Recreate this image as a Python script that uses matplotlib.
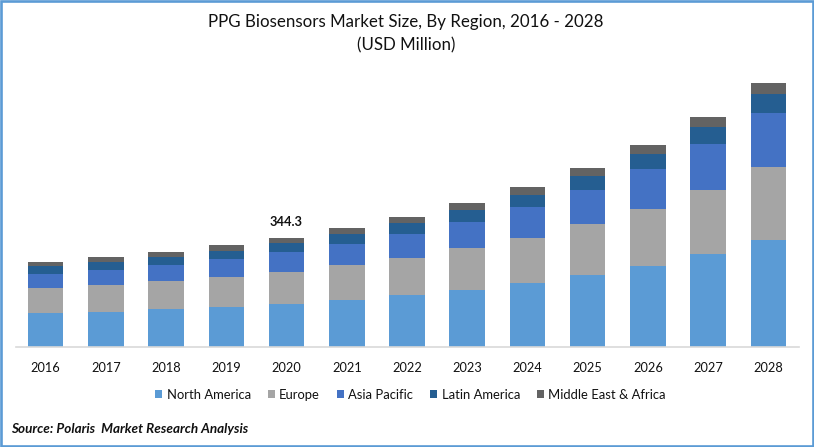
import matplotlib
matplotlib.use("Agg")
import matplotlib.pyplot as plt
from matplotlib.patches import Rectangle

years = ["2016","2017","2018","2019","2020","2021","2022","2023","2024","2025","2026","2027","2028"]
north_america = [107.4,110.6,120.0,126.4,135.9,148.5,164.3,180.1,202.2,227.5,256.0,293.9,338.1]
europe = [79.0,85.3,88.5,94.8,101.1,110.6,116.9,132.7,142.2,161.2,180.1,202.2,230.7]
asia_pacific = [44.2,47.4,50.6,56.9,63.2,66.4,75.8,82.2,98.0,107.4,126.4,145.4,170.6]
latin_america = [25.3,25.3,25.3,25.3,28.4,31.6,34.8,37.9,37.9,44.2,47.4,53.7,60.0]
mea = [12.6,15.8,15.8,19.0,15.7,19.0,19.0,22.1,25.3,25.3,28.4,31.6,34.8]
series = ["North America","Europe","Asia Pacific","Latin America","Middle East & Africa"]
colors = ["#5B9BD5","#A5A5A5","#4472C4","#255E91","#636363"]
annot_year = "2020"
annot_text = "344.3"

plt.rcParams["font.family"] = ["Lato","DejaVu Sans"]
W,H = 814,447
fig = plt.figure(figsize=(W/100,H/100),dpi=100,facecolor="white")
ax = fig.add_axes([15.5/W,(H-347)/H,783/W,277/H])
x = list(range(len(years)))
bottom = [0.0]*len(years)
handles=[]
for name,vals,c in zip(series,[north_america,europe,asia_pacific,latin_america,mea],colors):
    b = ax.bar(x,vals,0.59,bottom=bottom,color=c,label=name,linewidth=0)
    handles.append(b)
    bottom=[p+q for p,q in zip(bottom,vals)]
ax.set_xlim(-0.5,12.5)
ax.set_ylim(0,875)
ax.set_yticks([])
ax.set_xticks(x,years,fontsize=9.2,color="#111111")
ax.tick_params(axis="x",length=0,pad=10.5)
for s in ["top","left","right"]:
    ax.spines[s].set_visible(False)
ax.spines["bottom"].set_color("#D9D9D9")
ax.spines["bottom"].set_linewidth(1.2)
i = years.index(annot_year)
ax.annotate(annot_text,(i,bottom[i]),xytext=(0,10),textcoords="offset pixels",ha="center",va="bottom",
            fontsize=9.3,fontweight="bold",color="#111111")
fig.text(406/W,1-22.5/H,"PPG Biosensors Market Size, By Region, 2016 - 2028",ha="center",va="center",fontsize=12.2,color="#111111")
fig.text(406/W,1-45.5/H,"(USD Million)",ha="center",va="center",fontsize=12.2,color="#111111")
fig.text(11/W,1-429/H,"Source: Polaris  Market Research Analysis",ha="left",va="center",fontsize=9.7,
         fontweight="bold",fontstyle="italic",color="#111111")
fig.legend(handles=handles,loc="center",bbox_to_anchor=(410.5/W,1-395/H),ncol=5,frameon=False,fontsize=9.4,
           handlelength=0.55,handleheight=0.55,handletextpad=0.32,columnspacing=1.3,labelcolor="#111111")
fig.add_artist(Rectangle((1.2/W,1.2/H),1-2.4/W,1-2.4/H,transform=fig.transFigure,fill=False,
                         edgecolor="#5B9BD5",linewidth=1.9))
fig.savefig("out.png",dpi=100)
